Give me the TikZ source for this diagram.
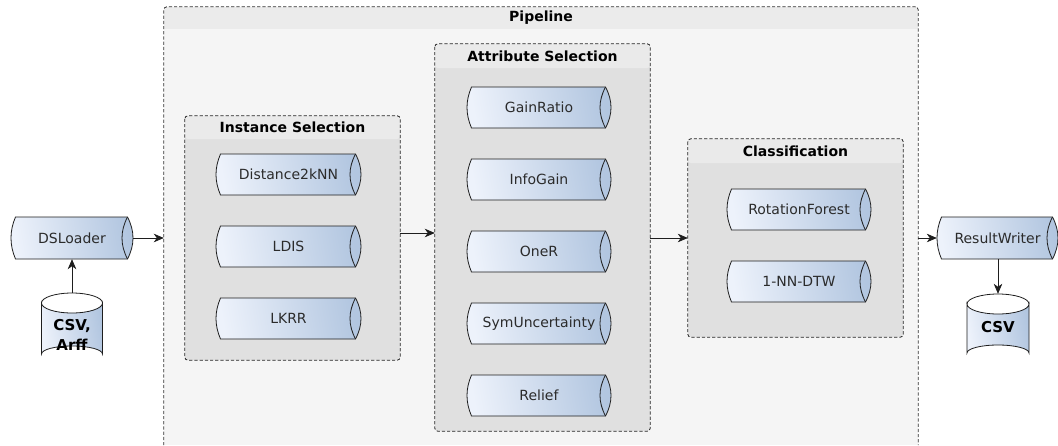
\documentclass[tikz,border=0pt]{standalone}
\usepackage{fontspec}
\setmainfont{DejaVu Sans}
\usetikzlibrary{arrows.meta,calc}
\definecolor{pipeoutline}{HTML}{1E1E1E}
\definecolor{pipelight}{HTML}{EDF2FB}
\definecolor{pipedark}{HTML}{B2C6E0}
\definecolor{pipetext}{HTML}{2B2B2B}
\definecolor{outerfill}{HTML}{F5F5F5}
\definecolor{outerhead}{HTML}{EBEBEB}
\definecolor{innerfill}{HTML}{E0E0E0}
\definecolor{innerhead}{HTML}{EAEAEA}
\tikzset{
  gradfill/.style={left color=pipelight,right color=pipedark,shading angle=100},
  outline/.style={draw=pipeoutline,line width=.8pt},
  pipebox/.style={rectangle,inner sep=0pt,font=\fontsize{14}{17}\selectfont,text=pipetext},
  dbbox/.style={rectangle,inner sep=0pt,align=center,font=\fontsize{15}{20}\bfseries\selectfont,text=black},
  groupbox/.style={rectangle,inner sep=0pt,rounded corners=3pt,fill=innerfill},
  groupedge/.style={draw=black!85,line width=.8pt,dash pattern=on 3.2pt off 2pt,rounded corners=3pt},
  grouptitle/.style={inner sep=0pt,font=\fontsize{14}{17}\bfseries\selectfont,text=black},
  flow/.style={draw=pipeoutline,line width=.8pt,-{Stealth[length=10pt,width=8.5pt,inset=3pt]}}
}
% name, left, top, right, bottom, text
\newcommand{\pipeitem}[6]{%
  \path[gradfill] (#2+4.5,#3) .. controls (#2-1.5,#3+14) and (#2-1.5,#5-14) .. (#2+4.5,#5)
     -- (#4-5.5,#5) .. controls (#4+1.83,#5-14) and (#4+1.83,#3+14) .. (#4-5.5,#3) -- cycle;
  \draw[outline] (#2+4.5,#3) .. controls (#2-1.5,#3+14) and (#2-1.5,#5-14) .. (#2+4.5,#5)
     -- (#4-5.5,#5) .. controls (#4+1.83,#5-14) and (#4+1.83,#3+14) .. (#4-5.5,#3) -- cycle;
  \draw[outline] (#4-5.5,#3) .. controls (#4-12.83,#3+14) and (#4-12.83,#5-14) .. (#4-5.5,#5);
  \node[pipebox,minimum width=#4pt-#2pt,minimum height=#5pt-#3pt] (#1) at ({(#2+#4)/2},{(#3+#5)/2}) {#6};
}
% name, left, top, right, bottom, text
\newcommand{\dbitem}[6]{%
  \path[gradfill] (#2,#3+10) arc[start angle=180,end angle=0,x radius={(#4-#2)/2},y radius=10]
     -- (#4,#5-8) arc[start angle=0,end angle=-180,x radius={(#4-#2)/2},y radius=8] -- cycle;
  \draw[outline] (#2,#3+10) arc[start angle=180,end angle=0,x radius={(#4-#2)/2},y radius=10]
     -- (#4,#5-8) arc[start angle=0,end angle=-180,x radius={(#4-#2)/2},y radius=8] -- cycle;
  \draw[outline] (#2,#3+10) arc[start angle=180,end angle=360,x radius={(#4-#2)/2},y radius=10];
  \node[rectangle,inner sep=0pt,minimum width=#4pt-#2pt,minimum height=#5pt-#3pt] (#1) at ({(#2+#4)/2},{(#3+#5)/2}) {};
}
% name, left, top, right, bottom, header bottom, title
\newcommand{\groupitem}[7]{%
  \node[groupbox,minimum width=#4pt-#2pt,minimum height=#5pt-#3pt] (#1) at ({(#2+#4)/2},{(#3+#5)/2}) {};
  \fill[innerhead,rounded corners=3pt] (#2,#6) -- (#2,#3) -- (#4,#3) -- (#4,#6) -- cycle;
  \draw[groupedge] (#1.north west) rectangle (#1.south east);
  \node[grouptitle] (#1title) at ({(#2+#4)/2},{(#3+#6)/2}) {#7};
}
\begin{document}
\begin{tikzpicture}[x=1pt,y=-1pt]
\useasboundingbox (0,0) rectangle (1058,445);
\fill[white] (0,0) rectangle (1058,445);
% Pipeline container
\node[rectangle,inner sep=0pt,minimum width=754pt,minimum height=438pt,fill=outerfill] (pipeline) at (541,226) {};
\fill[outerhead] (164,7) rectangle (918,29);
\draw[draw=black!80,line width=.8pt,dash pattern=on 3.2pt off 2pt,rounded corners=3pt]
  (pipeline.south west) -- (pipeline.north west) -- (pipeline.north east) -- (pipeline.south east);
\node[grouptitle] (pipelinetitle) at (541,18) {Pipeline};
% Groups
\groupitem{inst}{185}{116}{400}{360}{139}{Instance Selection}
\groupitem{attr}{435}{44}{650}{431}{68}{Attribute Selection}
\groupitem{cls}{688}{139}{903}{337}{163}{Classification}
% Loaders and writers
\pipeitem{dsl}{11}{217}{133}{259}{DSLoader}
\pipeitem{rw}{937}{217}{1058}{259}{ResultWriter}
\dbitem{csvin}{41.5}{293}{102.5}{362}{}
\node[dbbox] (csvintext) at (72,335) {CSV,\\Arff};
\dbitem{csvout}{967}{294}{1029}{361}{}
\node[dbbox] (csvouttext) at (998,327) {CSV};
% Instance selection
\pipeitem{dk}{216}{154}{361}{195}{Distance2kNN}
\pipeitem{ldis}{216}{226}{361}{267}{LDIS}
\pipeitem{lkrr}{216}{298}{361}{339}{LKRR}
% Attribute selection
\pipeitem{gain}{467}{87}{611}{128}{GainRatio}
\pipeitem{info}{467}{159}{611}{200}{InfoGain}
\pipeitem{oner}{467}{231}{611}{272}{OneR}
\pipeitem{sym}{467}{303}{611}{344}{SymUncertainty}
\pipeitem{relief}{467}{375}{611}{416}{Relief}
% Classification
\pipeitem{rot}{727}{189}{871}{230}{RotationForest}
\pipeitem{nn}{727}{261}{871}{302}{1-NN-DTW}
% Connectors
\draw[flow] (csvin.north) -- (csvin.north |- dsl.south);
\draw[flow] (dsl.east) -- (dsl.east -| pipeline.west);
\draw[flow] ([yshift=5pt]inst.east) -- ([yshift=5pt]inst.east -| attr.west);
\draw[flow] (attr.east |- cls.west) -- (cls.west);
\draw[flow] (rw.west -| pipeline.east) -- (rw.west);
\draw[flow] (rw.south -| csvout.north) -- (csvout.north);
\end{tikzpicture}
\end{document}
